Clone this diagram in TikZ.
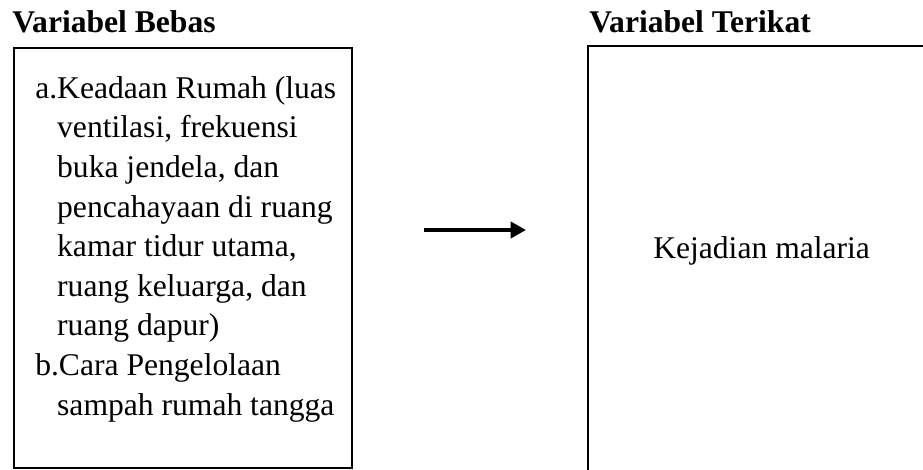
\documentclass[tikz,border=0pt]{standalone}
\usepackage{fontspec}
\setmainfont{Liberation Serif}
\usetikzlibrary{arrows.meta}

\tikzset{
  boxline/.style={draw=black, line width=1.9pt},
  heading/.style={font=\fontsize{23.7}{29.7}\selectfont\bfseries, inner sep=0pt, anchor=base west},
  bodytext/.style={font=\fontsize{23.7}{29.7}\selectfont, inner sep=0pt, anchor=base west, align=left},
  flow/.style={line width=2.9pt, -{Triangle[length=11.5pt, width=12pt]}}
}
\newcommand{\hangsp}{\hphantom{a.}}

\begin{document}
\begin{tikzpicture}[x=0.75pt, y=-0.75pt]
  \useasboundingbox (0,0) rectangle (923,470);
  \clip (0,0) rectangle (923,470);

  % headings
  \node[heading] (hbebas) at (12,33) {Variabel Bebas};
  \node[heading] (hterikat) at (589,33) {Variabel Terikat};

  % independent variable box; the list is anchored at its last baseline
  \draw[boxline] (14,48) rectangle (352,468);
  \node[bodytext] (bebas) at (35,415) {a.Keadaan Rumah (luas\\
    \hangsp ventilasi, frekuensi\\
    \hangsp buka jendela, dan\\
    \hangsp pencahayaan di ruang\\
    \hangsp kamar tidur utama,\\
    \hangsp ruang keluarga, dan\\
    \hangsp ruang dapur)\\
    b.Cara Pengelolaan\\
    \hangsp sampah rumah tangga};

  % dependent variable box (runs past the lower and right edges)
  \draw[boxline] (588,46) rectangle (1000,560);
  \node[bodytext] (terikat) at (653,258) {Kejadian malaria};

  % relation arrow
  \coordinate (arrS) at (424,230);
  \coordinate (arrE) at (526,230);
  \draw[flow] (arrS) -- (arrE);
\end{tikzpicture}
\end{document}
